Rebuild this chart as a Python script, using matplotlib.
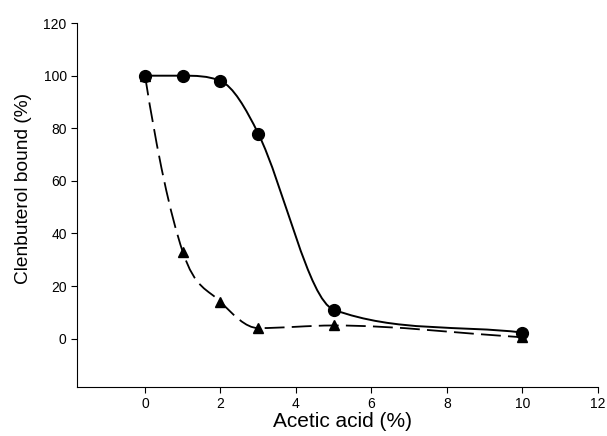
import numpy as np
import matplotlib.pyplot as plt
from matplotlib.path import Path
from matplotlib.patches import PathPatch

plt.rcParams['font.family'] = ['Liberation Sans', 'DejaVu Sans']

acid = [0, 1, 2, 3, 5, 10]
bound_circle = [100, 100, 98, 78, 11, 2.3]
bound_triangle = [100, 33, 14, 4, 5, 0.5]


def smooth_path(x, y, steep_start=False):
    # hermite curve through the points, chord tangents limited so it
    # does not overshoot, drawn as bezier segments
    x = np.asarray(x, float)
    y = np.asarray(y, float)
    h = np.diff(x)
    d = np.diff(y) / h
    m = np.zeros_like(y)
    for i in range(1, len(x) - 1):
        if d[i - 1] * d[i] <= 0:
            continue
        chord = (y[i + 1] - y[i - 1]) / (x[i + 1] - x[i - 1])
        lim = 3 * min(abs(d[i - 1]), abs(d[i]))
        m[i] = np.sign(chord) * min(abs(chord), lim)
    m[0], m[-1] = d[0], d[-1]
    if steep_start:
        m[0] = 2 * d[0] - m[1]
    verts = [(x[0], y[0])]
    codes = [Path.MOVETO]
    for i in range(len(x) - 1):
        verts += [(x[i] + h[i] / 3, y[i] + m[i] * h[i] / 3),
                  (x[i + 1] - h[i] / 3, y[i + 1] - m[i + 1] * h[i] / 3),
                  (x[i + 1], y[i + 1])]
        codes += [Path.CURVE4] * 3
    return Path(verts, codes)


fig = plt.figure(figsize=(6.07, 4.36), dpi=100)
ax = fig.add_axes([0.127, 0.113, 0.858, 0.834])

ax.add_patch(PathPatch(smooth_path(acid, bound_circle), fill=False,
                       lw=1.4, color='black'))
ax.add_patch(PathPatch(smooth_path(acid, bound_triangle, steep_start=True),
                       fill=False, lw=1.3, color='black',
                       linestyle=(0, (11, 4))))

ax.plot(acid, bound_circle, 'o', color='black', ms=8.5, zorder=3)
ax.plot(acid, bound_triangle, '^', color='black', ms=7, zorder=3)

ax.set_xlim(-1.8, 12)
ax.set_ylim(-18.3, 120)
ax.set_xticks([0, 2, 4, 6, 8, 10, 12])
ax.set_yticks([0, 20, 40, 60, 80, 100, 120])
ax.spines['top'].set_visible(False)
ax.spines['right'].set_visible(False)
ax.tick_params(direction='out', length=4, width=0.8, labelsize=10)
ax.set_xlabel('Acetic acid (%)', fontsize=15)
ax.set_ylabel('Clenbuterol bound (%)', fontsize=13.8)
ax.xaxis.set_label_coords(0.51, -0.07)
ax.yaxis.set_label_coords(-0.087, 0.545)

fig.savefig('out.png', dpi=100)
